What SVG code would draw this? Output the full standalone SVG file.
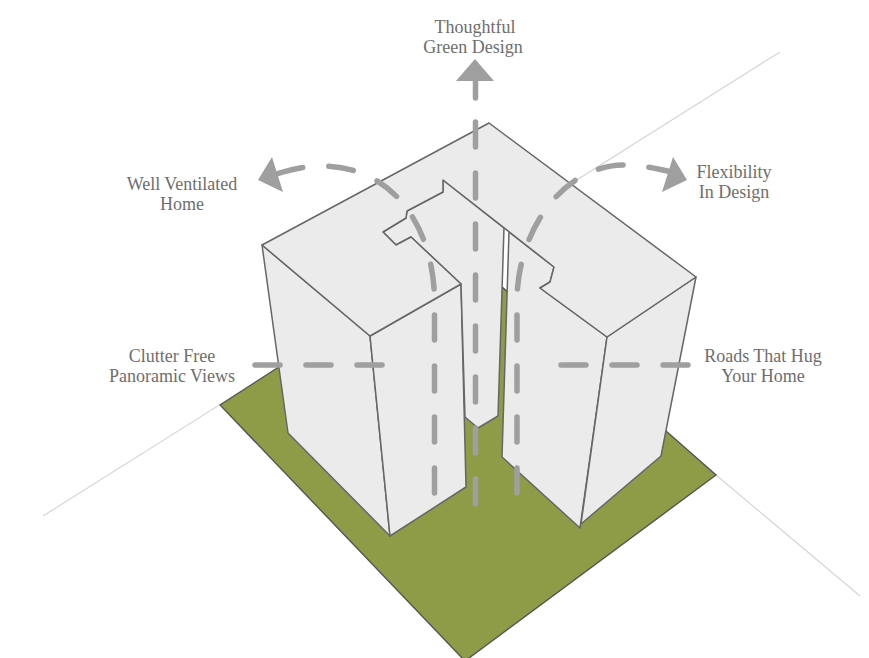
<svg xmlns="http://www.w3.org/2000/svg" width="869" height="658" viewBox="0 0 869 658">
<style>
.axis{fill:none;stroke:#d6d6d6;stroke-width:1.2}
.face{fill:#ebebeb;stroke:#666;stroke-width:1.5;stroke-linejoin:round}
.dash{fill:none;stroke:#9f9f9f;stroke-width:5.5;stroke-linecap:round;stroke-dasharray:25 26}
.stem{fill:none;stroke:#9f9f9f;stroke-width:5.5;stroke-linecap:round}
.head{fill:#9f9f9f}
text{font-family:"Liberation Serif","Times New Roman",serif;font-size:18px;fill:#6e6e6e;text-anchor:middle}
</style>
<rect width="869" height="658" fill="#fff"/>
<g id="axes">
<path class="axis" d="M43 516L780 52"/>
<path class="axis" d="M716 475L860 596"/>
</g>
<g id="ground">
<polygon points="220,405 460,250 716,475 465,661" fill="#8f9c47" stroke="#555" stroke-width="1.4"/>
</g>
<g id="building">
<polygon class="face" points="262,245 370,336 390,536 288,433"/>
<polygon class="face" points="370,336 461,284 466,487 390,536"/>
<polygon class="face" points="443,180 443,192 407,211 406,218 383,232 396,245 411,237 461,284 465,417 478,428 498,416 504,228"/>
<polygon class="face" points="509,232 554,267 550,282 540,288 607,337 580,528 502,457"/>
<polygon class="face" points="607,337 696,277 661,456 581,524"/>
<polygon class="face" points="262,245 489,123 696,277 607,337 540,288 550,282 554,267 443,180 443,192 407,211 406,218 383,232 396,245 411,237 461,284 370,336"/>
</g>
<g id="connectors">
<path class="dash" d="M475.5 504V98"/>
<path class="stem" d="M475.5 98V76"/>
<polygon class="head" points="475,59 494,81 456,81"/>
<path class="dash" d="M434.5 493V300C434 230 395 165 320 166C305 166 290 170 276 174"/>
<polygon class="head" points="272,157 258,180 283,192"/>
<path class="dash" d="M517 493V300C517 235 560 165 625 165C640 165 655 168 672 172"/>
<polygon class="head" points="673,157 687,180 662,192"/>
<path class="dash" d="M255 365H385"/>
<path class="dash" d="M688 365H560"/>
</g>
<g id="label-green"><text x="475" y="32.5">Thoughtful</text><text x="473" y="52.5">Green Design</text></g>
<g id="label-ventilated"><text x="182" y="189.5">Well Ventilated</text><text x="182" y="209.5">Home</text></g>
<g id="label-flexibility"><text x="734" y="177.5">Flexibility</text><text x="734" y="197.5">In Design</text></g>
<g id="label-clutter"><text x="172" y="361.5">Clutter Free</text><text x="172" y="381.5">Panoramic Views</text></g>
<g id="label-roads"><text x="763" y="361.5">Roads That Hug</text><text x="763" y="381.5">Your Home</text></g>
</svg>
